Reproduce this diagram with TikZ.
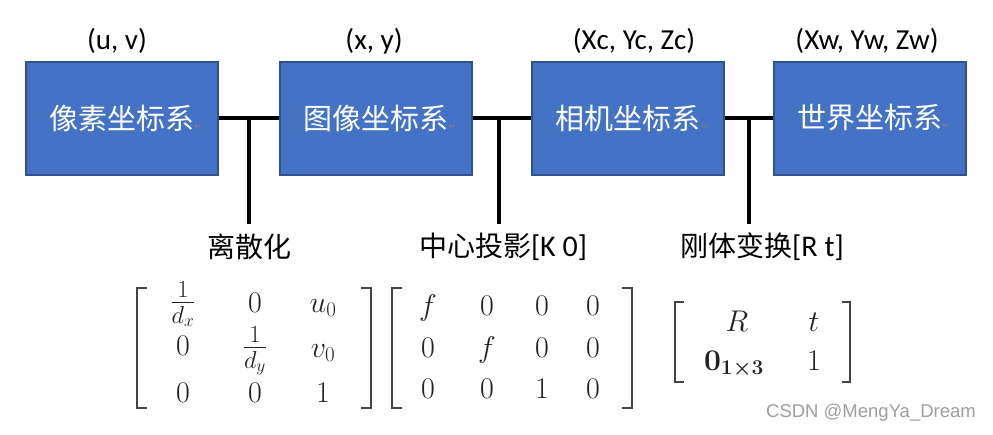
\RequirePackage{fix-cm}
\documentclass[tikz,border=0pt]{standalone}
\usepackage{amsmath}
\usepackage{fontspec}
\newfontfamily\carl{Carlito}
\newfontfamily\cjk{Noto Sans CJK SC}
\newfontfamily\wm{Liberation Sans}
\newfontfamily\symf{DejaVu Sans}
\definecolor{boxblue}{HTML}{4472C4}
\definecolor{boxedge}{HTML}{2F528F}
\definecolor{mtxgray}{HTML}{222222}
\definecolor{brkgray}{HTML}{444444}
\tikzset{
  cbox/.style={draw=boxedge, line width=2pt, fill=boxblue, minimum width=192pt, minimum height=113pt, inner sep=0pt, text=white, font=\cjk\fontsize{29}{35}\selectfont},
  toplab/.style={inner sep=0pt, font=\carl\fontsize{29}{33}\selectfont},
  lab/.style={inner sep=0pt, font=\cjk\fontsize{28}{32}\selectfont},
  conn/.style={line width=4pt},
  mtx/.style={text=mtxgray, font=\fontsize{30}{36}\selectfont, anchor=base, inner sep=0pt},
  mfrac/.style={mtx, font=\fontsize{35}{40}\selectfont},
  brk/.style={draw=brkgray, line width=2.5pt},
}
\newcommand{\retmark}{\rlap{\symf\fontsize{9}{9}\selectfont\color{gray}↵}}
\begin{document}
\begin{tikzpicture}[x=1pt,y=-1pt]
\useasboundingbox (0,0) rectangle (993,434);
\fill[white] (0,0) rectangle (993,434);
% boxes
\node[cbox] (b1) at (122,118) {像素坐标系\retmark};
\node[cbox] (b2) at (376,118) {图像坐标系\retmark};
\node[cbox] (b3) at (628,118) {相机坐标系\retmark};
\node[cbox] (b4) at (870,118) {世界坐标系\retmark};
% top labels
\node[toplab] (t1) at (117,41) {(u, v)};
\node[toplab] (t2) at (374,41) {(x, y)};
\node[toplab] (t3) at (634,41) {(Xc, Yc, Zc)};
\node[toplab] (t4) at (867,41) {(Xw, Yw, Zw)};
% connectors
\coordinate (j1) at (249,118); \coordinate (k1) at (249,224);
\coordinate (j2) at (499,118); \coordinate (k2) at (499,224);
\coordinate (j3) at (749,118); \coordinate (k3) at (749,224);
\draw[conn] (b1.east) -- (b2.west);
\draw[conn] (b2.east) -- (b3.west);
\draw[conn] (b3.east) -- (b4.west);
\draw[conn] (j1) -- (k1);
\draw[conn] (j2) -- (k2);
\draw[conn] (j3) -- (k3);
% bottom labels
\node[lab] (l1) at (249,247) {离散化};
\node[lab] (l2) at (503,247) {中心投影{\carl\fontsize{30}{32}\selectfont [K 0]}};
\node[lab] (l3) at (762,247) {刚体变换{\carl\fontsize{30}{32}\selectfont [R t]}};
% brackets
\draw[brk] (147,288) -- (137,288) -- (137,408) -- (147,408);
\draw[brk] (361,288) -- (371,288) -- (371,408) -- (361,408);
\draw[brk] (402,288) -- (392,288) -- (392,408) -- (402,408);
\draw[brk] (622,288) -- (632,288) -- (632,408) -- (622,408);
\draw[brk] (684,302) -- (675,302) -- (675,382) -- (684,382);
\draw[brk] (842,302) -- (850,302) -- (850,382) -- (842,382);
% matrix 1
\node[mfrac] (a11) at (183,311) {$\frac{1}{d_x}$};
\node[mtx] (a12) at (255,312) {$0$};
\node[mtx] (a13) at (323,312) {$u_0$};
\node[mtx] (a21) at (183,355) {$0$};
\node[mfrac] (a22) at (255,356) {$\frac{1}{d_y}$};
\node[mtx] (a23) at (323,357) {$v_0$};
\node[mtx] (a31) at (183,402) {$0$};
\node[mtx] (a32) at (255,402) {$0$};
\node[mtx] (a33) at (323,402) {$1$};
% matrix 2
\node[mtx] (p11) at (428,315) {$f$};
\node[mtx] (p12) at (487,315) {$0$};
\node[mtx] (p13) at (542,315) {$0$};
\node[mtx] (p14) at (593,315) {$0$};
\node[mtx] (p21) at (428,357) {$0$};
\node[mtx] (p22) at (487,357) {$f$};
\node[mtx] (p23) at (542,357) {$0$};
\node[mtx] (p24) at (593,357) {$0$};
\node[mtx] (p31) at (428,398) {$0$};
\node[mtx] (p32) at (487,398) {$0$};
\node[mtx] (p33) at (542,398) {$1$};
\node[mtx] (p34) at (593,398) {$0$};
% matrix 3
\node[mtx] (r11) at (737,331) {$R$};
\node[mtx] (r12) at (814,331) {$t$};
\node[mtx] (r21) at (734,370) {$\boldsymbol{0_{1\times 3}}$};
\node[mtx] (r22) at (814,370) {$1$};
% watermark
\node[inner sep=0pt, text=black!38, font=\wm\fontsize{18.5}{22}\selectfont] (wm) at (871,413) {CSDN @MengYa\_Dream};
\end{tikzpicture}
\end{document}
